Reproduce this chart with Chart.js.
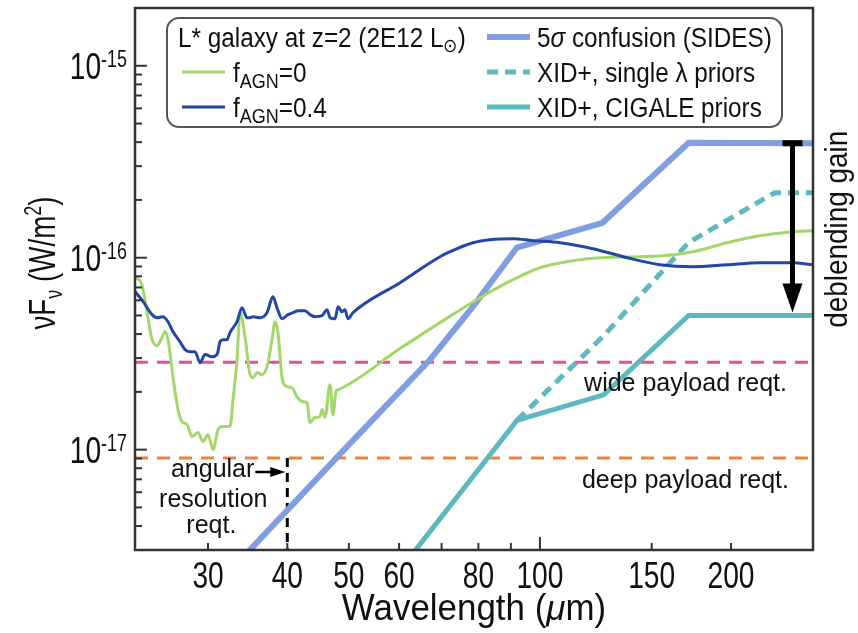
<!DOCTYPE html>
<html>
<head>
<meta charset="utf-8">
<script src="https://cdn.jsdelivr.net/npm/chart.js@4.4.0/dist/chart.umd.min.js"></script>
<style>
  html, body { margin: 0; padding: 0; background: #fff; }
  #sed { display: block; }
</style>
</head>
<body>
<canvas id="sed" width="858" height="633"></canvas>
<script>
// axis ranges (wavelength in um, nuFnu in W/m2)
const waveMin = 23.02, waveMax = 269.3;
const fluxMin = 3.01e-18, fluxMax = 2.0e-15;

const waveTicks  = [30, 40, 50, 60, 70, 80, 90, 100, 150, 200];
const waveLabels = ['30', '40', '50', '60', '', '80', '', '100', '150', '200'];
const fluxDecades = [-17, -16, -15];

// L* galaxy at z=2, f_AGN = 0
const sfWave = [23.02, 23.6, 24.05, 24.49, 24.93, 25.38, 25.66, 25.95, 26.42, 26.90,
  27.30, 27.80, 28.31, 28.93, 29.46, 30.0, 30.55, 31.11, 31.68, 32.49,
  32.85, 33.33, 33.69, 34.31, 34.94, 35.32, 35.84, 36.49, 37.16, 37.84,
  38.25, 38.67, 39.24, 39.95, 40.69, 41.43, 42.20, 42.97, 43.43, 44.23,
  45.03, 45.37, 45.86, 46.70, 47.21, 47.73, 48.08, 60.2, 69.6, 80.5,
  90.7, 100, 115.6, 137.2, 154.6, 174.2, 197.1, 222.1, 250.4, 269.3];
const sfFlux = [7.96e-17, 7.23e-17, 5.17e-17, 3.74e-17, 3.48e-17, 3.83e-17, 4.12e-17, 3.74e-17, 2.40e-17, 1.62e-17,
  1.40e-17, 1.35e-17, 1.17e-17, 1.23e-17, 1.10e-17, 1.20e-17, 1.00e-17, 1.27e-17, 1.32e-17, 1.32e-17,
  1.82e-17, 2.94e-17, 5.17e-17, 3.88e-17, 2.46e-17, 2.37e-17, 2.52e-17, 2.46e-17, 2.71e-17, 3.74e-17,
  4.64e-17, 4.07e-17, 2.37e-17, 2.13e-17, 2.10e-17, 1.89e-17, 1.78e-17, 1.76e-17, 1.38e-17, 1.47e-17,
  1.49e-17, 1.62e-17, 1.47e-17, 2.18e-17, 1.52e-17, 2.01e-17, 2.05e-17, 3.36e-17, 4.59e-17, 6.19e-17,
  7.68e-17, 8.87e-17, 9.76e-17, 1.01e-16, 1.02e-16, 1.075e-16, 1.197e-16, 1.30e-16, 1.366e-16, 1.382e-16];

// L* galaxy at z=2, f_AGN = 0.4
const agnWave = [23.02, 23.71, 24.49, 24.93, 25.47, 25.95, 26.42, 27.10, 27.60, 28.10,
  28.62, 29.14, 29.68, 30.44, 31.00, 31.34, 31.68, 32.14, 32.49, 33.33,
  33.94, 34.56, 34.94, 35.32, 36.23, 37.16, 37.97, 38.53, 39.24, 40.10,
  40.84, 41.59, 42.65, 43.43, 44.23, 45.37, 46.20, 46.70, 47.56, 48.08,
  48.78, 49.31, 49.85, 50.76, 60.2, 69.6, 72.2, 78.45, 83.4, 90.7,
  97.5, 107.5, 121.2, 137.2, 154.6, 174.2, 197.1, 222.1, 250.4, 269.3];
const agnFlux = [6.68e-17, 5.90e-17, 5.05e-17, 4.87e-17, 4.93e-17, 4.64e-17, 4.12e-17, 3.65e-17, 3.32e-17, 3.24e-17,
  3.24e-17, 2.84e-17, 3.13e-17, 3.05e-17, 3.13e-17, 3.65e-17, 3.74e-17, 3.74e-17, 4.07e-17, 4.64e-17,
  5.49e-17, 4.87e-17, 4.87e-17, 4.93e-17, 4.87e-17, 5.17e-17, 6.26e-17, 5.49e-17, 4.81e-17, 5.05e-17,
  5.17e-17, 5.30e-17, 5.30e-17, 5.05e-17, 4.93e-17, 4.99e-17, 5.36e-17, 4.87e-17, 4.81e-17, 5.56e-17,
  5.23e-17, 5.36e-17, 4.81e-17, 5.17e-17, 7.41e-17, 1.012e-16, 1.075e-16, 1.197e-16, 1.241e-16, 1.256e-16,
  1.227e-16, 1.197e-16, 1.114e-16, 1.00e-16, 9.19e-17, 8.98e-17, 9.19e-17, 9.42e-17, 9.42e-17, 9.19e-17];

// 5 sigma confusion limit (SIDES)
const sidesWave = [33, 49.85, 67.1, 78.45, 92, 125.5, 171.5, 269.3];
const sidesFlux = [2.46e-18, 1.05e-17, 2.94e-17, 5.56e-17, 1.13e-16, 1.52e-16, 3.97e-16, 3.95e-16];

// XID+ with single-wavelength priors
const singleWave = [92, 126, 171.5, 234.5, 269.3];
const singleFlux = [1.42e-17, 3.92e-17, 1.2e-16, 2.18e-16, 2.18e-16];

// XID+ with CIGALE priors
const cigWave = [60, 92, 126, 171.5, 269.3];
const cigFlux = [2.33e-18, 1.42e-17, 1.93e-17, 5.0e-17, 5.0e-17];

// payload requirements
const wideReq = 2.85e-17;
const deepReq = 9.05e-18;
const angularLimit = 40;
const gainWave = 250;

const pts = (xs, ys) => xs.map((v, i) => ({ x: v, y: ys[i] }));

const fontFamily = '"Liberation Sans", Arial, Helvetica, sans-serif';
function fnt(size, italic) { return (italic ? 'italic ' : '') + size + 'px ' + fontFamily; }

// draws runs of text (for sub/superscripts), squeezed horizontally by sx
function richText(ctx, parts, x, y, align, sx) {
  sx = sx || 1;
  const widths = [];
  let total = 0;
  parts.forEach(p => {
    ctx.font = fnt(p.size, p.italic);
    const w = ctx.measureText(p.t).width * sx;
    widths.push(w);
    total += w;
  });
  let cx = align === 'right' ? x - total : (align === 'center' ? x - total / 2 : x);
  parts.forEach((p, i) => {
    ctx.save();
    ctx.font = fnt(p.size, p.italic);
    ctx.textAlign = 'left';
    ctx.textBaseline = 'alphabetic';
    ctx.translate(cx, y + (p.dy || 0));
    ctx.scale(sx, 1);
    ctx.fillText(p.t, 0, 0);
    ctx.restore();
    cx += widths[i];
  });
  return total;
}

const decorPlugin = {
  id: 'decor',
  afterDraw(chart) {
    const { ctx, chartArea: a } = chart;
    const xs = chart.scales.x, ys = chart.scales.y;
    ctx.save();
    ctx.fillStyle = '#111';
    ctx.strokeStyle = '#333';

    // frame
    ctx.lineWidth = 2.5;
    ctx.strokeRect(a.left, a.top, a.right - a.left, a.bottom - a.top);

    // x ticks, pointing inward
    ctx.lineWidth = 2;
    waveTicks.forEach((v, i) => {
      const px = xs.getPixelForValue(v);
      const len = v === 100 ? 13 : 7;
      ctx.beginPath(); ctx.moveTo(px, a.bottom); ctx.lineTo(px, a.bottom - len); ctx.stroke();
      if (waveLabels[i]) richText(ctx, [{ t: waveLabels[i], size: 36 }], px, 588, 'center', 0.78);
    });

    // y ticks, pointing inward
    for (let e = -18; e <= -15; e++) {
      for (let m = 1; m <= 9; m++) {
        const v = m * Math.pow(10, e);
        if (v < fluxMin || v > fluxMax) continue;
        const py = ys.getPixelForValue(v);
        const len = m === 1 ? 12 : 7;
        ctx.beginPath(); ctx.moveTo(a.left, py); ctx.lineTo(a.left + len, py); ctx.stroke();
      }
    }
    fluxDecades.forEach(e => {
      const py = ys.getPixelForValue(Math.pow(10, e));
      richText(ctx, [{ t: '10', size: 36 }, { t: String(e), size: 23, dy: -12 }], a.left - 8, py + 13, 'right', 0.78);
    });

    // axis titles
    richText(ctx, [{ t: 'Wavelength (', size: 36 }, { t: 'μ', size: 36, italic: true }, { t: 'm)', size: 36 }],
      (a.left + a.right) / 2, 620, 'center', 0.97);
    ctx.save();
    ctx.translate(55, 263);
    ctx.rotate(-Math.PI / 2);
    richText(ctx, [{ t: 'νF', size: 37 }, { t: 'ν', size: 24, dy: 7 }, { t: ' (W/m', size: 37 },
      { t: '2', size: 24, dy: -14 }, { t: ')', size: 37 }], 0, 0, 'center', 0.75);
    ctx.restore();

    // requirement labels
    richText(ctx, [{ t: 'wide payload reqt.', size: 25 }], a.right - 26, ys.getPixelForValue(wideReq) + 29, 'right', 1);
    richText(ctx, [{ t: 'deep payload reqt.', size: 25 }], a.right - 24, ys.getPixelForValue(deepReq) + 30, 'right', 1);

    const lx = xs.getPixelForValue(angularLimit);
    const ay = 472;
    richText(ctx, [{ t: 'angular', size: 25 }], lx - 33, ay + 5, 'right', 1);
    richText(ctx, [{ t: 'resolution', size: 25 }], lx - 74, ay + 35, 'center', 1);
    richText(ctx, [{ t: 'reqt.', size: 25 }], lx - 76, ay + 61, 'center', 1);
    ctx.strokeStyle = '#000';
    ctx.lineWidth = 2.5;
    ctx.beginPath(); ctx.moveTo(lx - 32, ay); ctx.lineTo(lx - 14, ay); ctx.stroke();
    ctx.fillStyle = '#000';
    ctx.beginPath(); ctx.moveTo(lx - 2, ay); ctx.lineTo(lx - 17, ay - 5); ctx.lineTo(lx - 17, ay + 5); ctx.closePath(); ctx.fill();

    // deblending gain arrow
    const gx = xs.getPixelForValue(gainWave);
    const gTop = ys.getPixelForValue(sidesFlux[sidesFlux.length - 1]);
    const gBot = ys.getPixelForValue(cigFlux[cigFlux.length - 1]);
    ctx.fillRect(gx - 10, gTop - 3, 20, 6);
    ctx.lineWidth = 5;
    ctx.beginPath(); ctx.moveTo(gx, gTop); ctx.lineTo(gx, gBot - 30); ctx.stroke();
    ctx.beginPath(); ctx.moveTo(gx - 10, gBot - 32); ctx.lineTo(gx + 10, gBot - 32); ctx.lineTo(gx, gBot - 3); ctx.closePath(); ctx.fill();
    ctx.save();
    ctx.translate(847, (gTop + gBot) / 2);
    ctx.rotate(-Math.PI / 2);
    ctx.fillStyle = '#111';
    richText(ctx, [{ t: 'deblending gain', size: 31 }], 0, 0, 'center', 0.9);
    ctx.restore();

    // legend
    const ds = chart.data.datasets;
    ctx.fillStyle = '#fff';
    ctx.strokeStyle = '#555';
    ctx.lineWidth = 2;
    ctx.beginPath();
    ctx.roundRect(167, 18, 615, 109, 12);
    ctx.fill();
    ctx.stroke();
    ctx.fillStyle = '#111';
    richText(ctx, [{ t: 'L* galaxy at z=2 (2E12 L', size: 27 }, { t: '⊙', size: 19, dy: 5 }, { t: ')', size: 27 }], 178, 47, 'left', 0.9);
    const sample = (d, x0, y0) => {
      ctx.save();
      ctx.strokeStyle = d.borderColor;
      ctx.lineWidth = d.borderWidth;
      ctx.setLineDash(d.borderDash || []);
      ctx.beginPath(); ctx.moveTo(x0, y0); ctx.lineTo(x0 + 43, y0); ctx.stroke();
      ctx.restore();
    };
    const agnText = val => [{ t: 'f', size: 27 }, { t: 'AGN', size: 20, dy: 6 }, { t: '=' + val, size: 27 }];
    sample(ds[1], 182, 72);
    richText(ctx, agnText('0'), 233, 82, 'left', 0.9);
    sample(ds[0], 182, 107);
    richText(ctx, agnText('0.4'), 233, 117, 'left', 0.9);
    sample(ds[2], 487, 37);
    richText(ctx, [{ t: '5', size: 27 }, { t: 'σ', size: 27, italic: true }, { t: ' confusion (SIDES)', size: 27 }], 537, 47, 'left', 0.9);
    sample(ds[3], 487, 72);
    richText(ctx, [{ t: ds[3].label, size: 27 }], 537, 82, 'left', 0.9);
    sample(ds[4], 487, 107);
    richText(ctx, [{ t: ds[4].label, size: 27 }], 537, 117, 'left', 0.9);

    ctx.restore();
  }
};

new Chart(document.getElementById('sed'), {
  type: 'line',
  data: {
    datasets: [
      { label: 'f_AGN=0.4', data: pts(agnWave, agnFlux), borderColor: '#2347a8', borderWidth: 3, cubicInterpolationMode: 'monotone' },
      { label: 'f_AGN=0', data: pts(sfWave, sfFlux), borderColor: '#a2d86a', borderWidth: 3, cubicInterpolationMode: 'monotone' },
      { label: '5σ confusion (SIDES)', data: pts(sidesWave, sidesFlux), borderColor: '#809ee0', borderWidth: 6 },
      { label: 'XID+, single λ priors', data: pts(singleWave, singleFlux), borderColor: '#5db9bf', borderWidth: 5, borderDash: [11, 7] },
      { label: 'XID+, CIGALE priors', data: pts(cigWave, cigFlux), borderColor: '#5db9bf', borderWidth: 5 },
      { label: 'wide payload reqt.', data: [{ x: waveMin, y: wideReq }, { x: waveMax, y: wideReq }], borderColor: '#e0529c', borderWidth: 3, borderDash: [13, 9] },
      { label: 'deep payload reqt.', data: [{ x: waveMin, y: deepReq }, { x: waveMax, y: deepReq }], borderColor: '#e8843c', borderWidth: 3, borderDash: [13, 9] },
      { label: 'angular resolution reqt.', data: [{ x: angularLimit, y: deepReq }, { x: angularLimit, y: fluxMin }], borderColor: '#000', borderWidth: 3, borderDash: [9, 6] }
    ]
  },
  options: {
    responsive: false,
    animation: false,
    layout: { padding: { left: 0, right: 45, top: 8, bottom: 0 } },
    elements: { point: { radius: 0, hoverRadius: 0 }, line: { fill: false } },
    scales: {
      x: {
        type: 'logarithmic', min: waveMin, max: waveMax,
        ticks: { display: false }, grid: { display: false }, border: { display: false },
        afterFit: s => { s.height = 83; }
      },
      y: {
        type: 'logarithmic', min: fluxMin, max: fluxMax,
        ticks: { display: false }, grid: { display: false }, border: { display: false },
        afterFit: s => { s.width = 135; }
      }
    },
    plugins: { legend: { display: false }, tooltip: { enabled: false } }
  },
  plugins: [decorPlugin]
});
</script>
</body>
</html>
